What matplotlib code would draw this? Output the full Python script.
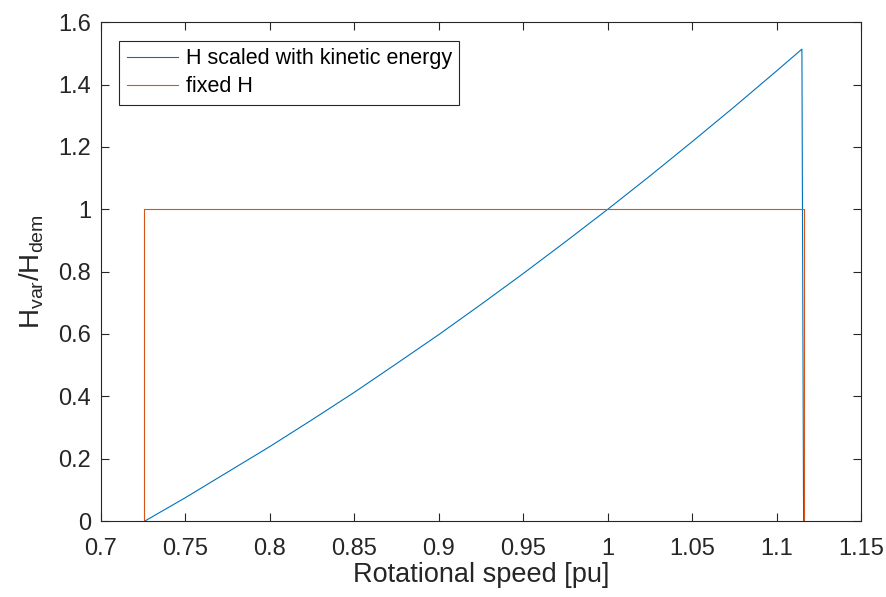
import matplotlib
matplotlib.use("Agg")
import matplotlib.pyplot as plt

# Inertia ratio H_var/H_dem versus rotor speed
speed_var = [0.726, 0.75, 0.775, 0.80, 0.825, 0.85, 0.875, 0.90, 0.925, 0.95,
             0.975, 1.00, 1.025, 1.05, 1.075, 1.10, 1.115, 1.116]
h_var = [0.0, 0.075, 0.157, 0.239, 0.325, 0.413, 0.505, 0.598, 0.695, 0.794,
         0.896, 1.0, 1.107, 1.217, 1.329, 1.444, 1.514, 0.0]

speed_fixed = [0.7256, 0.7256, 1.1161, 1.1161]
h_fixed = [0.0, 1.0, 1.0, 0.0]

x_ticks = [0.7, 0.75, 0.8, 0.85, 0.9, 0.95, 1.0, 1.05, 1.1, 1.15]
x_tick_labels = ["0.7", "0.75", "0.8", "0.85", "0.9", "0.95", "1", "1.05", "1.1", "1.15"]
y_ticks = [0, 0.2, 0.4, 0.6, 0.8, 1.0, 1.2, 1.4, 1.6]
y_tick_labels = ["0", "0.2", "0.4", "0.6", "0.8", "1", "1.2", "1.4", "1.6"]

plt.rcParams["font.family"] = ["Liberation Sans", "DejaVu Sans"]
plt.rcParams["mathtext.fontset"] = "custom"
plt.rcParams["mathtext.rm"] = "Liberation Sans"
plt.rcParams["mathtext.it"] = "Liberation Sans"

axis_col = "#262626"
fig = plt.figure(figsize=(8.86, 5.97), dpi=100)
ax = fig.add_axes([0.114, 0.1273, 0.8578, 0.8353])

ax.plot(speed_var, h_var, color="#0072BD", lw=0.8, label="H scaled with kinetic energy")
ax.plot(speed_fixed, h_fixed, color="#D95319", lw=0.8, label="fixed H")

ax.set_xlim(0.7, 1.15)
ax.set_ylim(0, 1.6)
ax.set_xticks(x_ticks)
ax.set_xticklabels(x_tick_labels)
ax.set_yticks(y_ticks)
ax.set_yticklabels(y_tick_labels)
ax.tick_params(direction="in", length=6, width=0.8, colors=axis_col,
               labelsize=17, top=True, right=True)
ax.tick_params(axis="x", pad=12)
ax.tick_params(axis="y", pad=7)
for s in ax.spines.values():
    s.set_color(axis_col)
    s.set_linewidth(0.8)

ax.set_xlabel("Rotational speed [pu]", fontsize=19.5, color=axis_col, labelpad=2)
ax.set_ylabel(r"H$_{\mathrm{var}}$/H$_{\mathrm{dem}}$", fontsize=20, color=axis_col, labelpad=9)

leg = ax.legend(loc="upper left", bbox_to_anchor=(0.0238, 0.963), fontsize=15.5,
                frameon=True, fancybox=False, edgecolor="#262626", framealpha=1,
                handlelength=2.4, handletextpad=0.35, borderpad=0.35,
                labelspacing=0.32, borderaxespad=0)
leg.get_frame().set_linewidth(0.8)

fig.savefig("out.png", dpi=100)
